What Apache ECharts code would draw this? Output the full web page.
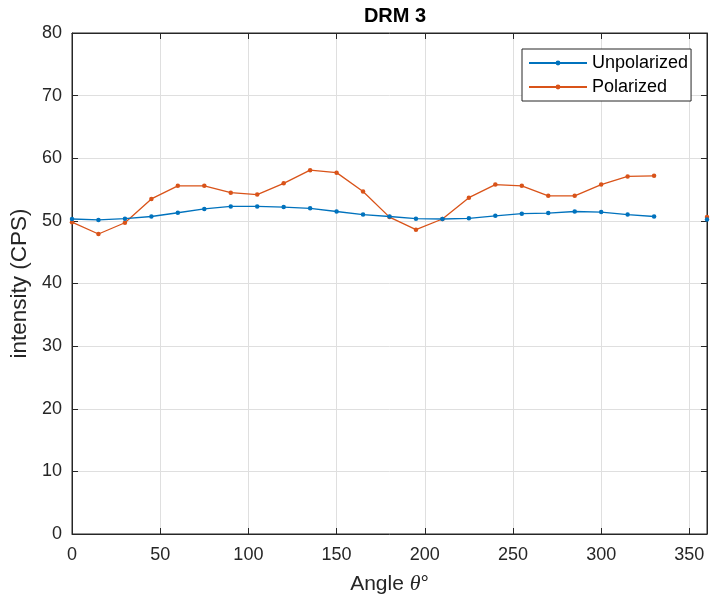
<!DOCTYPE html>
<html><head><meta charset="utf-8">
<script src="https://cdn.jsdelivr.net/npm/echarts@6/dist/echarts.min.js"></script>
<style>html,body{margin:0;padding:0;background:#fff}#c{width:712px;height:601px}</style>
</head><body><div id="c"></div>
<script>
const angles = [0,15,30,45,60,75,90,105,120,135,150,165,180,195,210,225,240,255,270,285,300,315,330,345,360];
const unpolarized = [50.3,50.15,50.35,50.7,51.3,51.9,52.3,52.3,52.2,52.0,51.5,51.0,50.7,50.35,50.3,50.4,50.8,51.15,51.25,51.5,51.4,51.0,50.7,null,50.2];
const polarized = [49.8,47.9,49.7,53.5,55.6,55.6,54.5,54.2,56.0,58.1,57.7,54.7,50.6,48.6,50.3,53.7,55.8,55.6,54.0,54.0,55.8,57.1,57.2,null,50.6];
const xTicks = [0,50,100,150,200,250,300,350];
const yTicks = [0,10,20,30,40,50,60,70,80];

const font = 'Liberation Sans, Arial, Helvetica, sans-serif';
const axisCol = '#262626';
const chart = echarts.init(document.getElementById('c'), null, {renderer:'canvas'});
const pair = a => angles.map((x,i)=>[x,a[i]]);
const gridLine = {show:true, lineStyle:{color:'#dfdfdf', width:1}};
const tick = {show:true, inside:true, length:6, lineStyle:{color:axisCol}};
const line = {show:true, onZero:false, lineStyle:{color:axisCol}};
chart.setOption({
  animation:false,
  title:{text:'DRM 3', left:390, top:1, textAlign:'center',
    textStyle:{fontFamily:font, fontSize:20, fontWeight:'bold', color:'#000'}},
  grid:{left:72, right:5, top:33, bottom:67, show:true, borderColor:axisCol, borderWidth:1, backgroundColor:'#fff'},
  legend:{
    left:522, top:49, orient:'vertical', itemGap:4, itemWidth:58, itemHeight:6,
    padding:[4,3,4,6], backgroundColor:'#fff', borderColor:axisCol, borderWidth:1, borderRadius:0,
    textStyle:{fontFamily:font, fontSize:18, lineHeight:20, color:'#000'},
    data:['Unpolarized','Polarized']
  },
  xAxis:[{
    type:'value', min:0, max:360, interval:50, position:'bottom',
    name:'Angle {i|θ}°', nameLocation:'middle', nameGap:39,
    nameTextStyle:{fontFamily:font, fontSize:21, color:'#262626', rich:{i:{fontFamily:'Liberation Serif, serif', fontStyle:'italic', fontSize:22, color:'#262626'}}},
    axisLine:line, axisTick:tick,
    axisLabel:{fontFamily:font, fontSize:18, color:'#262626', margin:12, showMaxLabel:false,
      formatter:v=>xTicks.includes(v)?String(v):''},
    splitLine:gridLine
  },{
    type:'value', min:0, max:360, interval:50, position:'top',
    axisLine:line, axisTick:tick,
    axisLabel:{show:false}, splitLine:{show:false}
  }],
  yAxis:[{
    type:'value', min:0, max:80, interval:10, position:'left',
    name:'intensity (CPS)', nameLocation:'middle', nameGap:35,
    nameTextStyle:{fontFamily:font, fontSize:22.5, color:'#262626'},
    axisLine:line, axisTick:tick,
    axisLabel:{fontFamily:font, fontSize:18, color:'#262626', margin:10,
      formatter:v=>yTicks.includes(v)?String(v):''},
    splitLine:gridLine
  },{
    type:'value', min:0, max:80, interval:10, position:'right',
    axisLine:line, axisTick:tick,
    axisLabel:{show:false}, splitLine:{show:false}
  }],
  series:[{
    name:'Unpolarized', type:'line', data:pair(unpolarized), connectNulls:false,
    symbol:'circle', symbolSize:4.5, showSymbol:true,
    lineStyle:{color:'#0072BD', width:1.3}, itemStyle:{color:'#0072BD'}, z:3
  },{
    name:'Polarized', type:'line', data:pair(polarized), connectNulls:false,
    symbol:'circle', symbolSize:4.5, showSymbol:true,
    lineStyle:{color:'#D95319', width:1.3}, itemStyle:{color:'#D95319'}, z:2
  }]
});
</script></body></html>
